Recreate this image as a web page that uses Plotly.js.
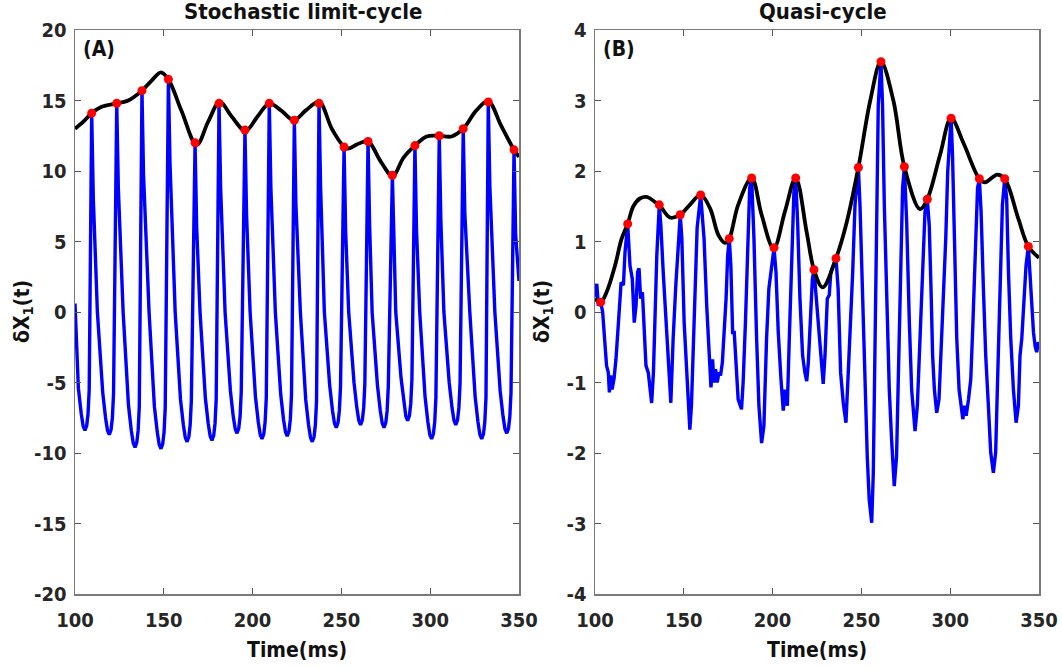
<!DOCTYPE html>
<html>
<head>
<meta charset="utf-8">
<script src="https://cdn.plot.ly/plotly-3.0.1.min.js"></script>
<style>html,body{margin:0;padding:0;background:#fff;}#chart{width:1062px;height:669px;}</style>
</head>
<body>
<div id="chart"></div>
<script>
// ---------- Panel A: stochastic limit-cycle (time ms, value) ----------
const blueA = [
  [100,0.6],[101.9,-5.4],[103.5,-7.2],[104.6,-8.1],[105.6,-8.4],[106.6,-8.05],[107.35,-7.2],[108.0,-5.5],[109.4,14.1],
  [110.3,8.1],[112.6,0],[115.6,-5.7],[117.2,-7.5],[118.3,-8.4],[119.3,-8.7],[120.3,-8.35],[121.05,-7.5],[121.7,-5.8],[123.5,14.8],
  [124.4,8.8],[127.1,0],[130.1,-6.6],[131.7,-8.4],[132.8,-9.3],[133.8,-9.6],[134.8,-9.25],[135.55,-8.4],[136.2,-6.7],[137.7,15.7],
  [138.6,9.7],[141.7,0],[144.7,-6.7],[146.3,-8.5],[147.4,-9.4],[148.4,-9.7],[149.4,-9.35],[150.15,-8.5],[150.8,-6.8],[152.6,16.5],
  [153.5,10.5],[156.4,0],[159.4,-6.2],[161.0,-8.0],[162.1,-8.9],[163.1,-9.2],[164.1,-8.85],[164.85,-8.0],[165.5,-6.3],[167.6,12.0],
  [168.5,6.0],[170.4,0],[173.4,-6.1],[175.0,-7.9],[176.1,-8.8],[177.1,-9.1],[178.1,-8.75],[178.85,-7.9],[179.5,-6.2],[181.1,14.8],
  [182.0,8.8],[184.5,0],[187.5,-5.6],[189.1,-7.4],[190.2,-8.3],[191.2,-8.6],[192.2,-8.25],[192.95,-7.4],[193.6,-5.7],[195.7,12.9],
  [196.6,6.9],[198.6,0],[201.6,-6.0],[203.2,-7.8],[204.3,-8.7],[205.3,-9.0],[206.3,-8.65],[207.05,-7.8],[207.7,-6.1],[209.4,14.8],
  [210.3,8.8],[212.8,0],[215.8,-5.8],[217.4,-7.6],[218.5,-8.5],[219.5,-8.8],[220.5,-8.45],[221.25,-7.6],[221.9,-5.9],[223.5,13.6],
  [224.4,7.6],[226.9,0],[229.9,-6.2],[231.5,-8.0],[232.6,-8.9],[233.6,-9.2],[234.6,-8.85],[235.35,-8.0],[236.0,-6.3],[237.4,14.8],
  [238.3,8.8],[240.4,0],[243.4,-5.2],[245.0,-7.0],[246.1,-7.9],[247.1,-8.2],[248.1,-7.85],[248.85,-7.0],[249.5,-5.3],[251.5,11.7],
  [252.4,5.7],[254.1,0],[257.1,-5.0],[258.7,-6.8],[259.8,-7.7],[260.8,-8.0],[261.8,-7.65],[262.55,-6.8],[263.2,-5.1],[265.0,12.1],
  [265.9,6.1],[267.3,0],[270.3,-5.2],[271.9,-7.0],[273.0,-7.9],[274.0,-8.2],[275.0,-7.85],[275.75,-7.0],[276.4,-5.3],[278.7,9.7],
  [279.6,3.7],[280.6,0],[283.6,-4.7],[285.2,-6.5],[286.3,-7.4],[287.3,-7.7],[288.3,-7.35],[289.05,-6.5],[289.7,-4.8],[291.4,11.8],
  [292.3,5.8],[294.1,0],[297.1,-6.0],[298.7,-7.8],[299.8,-8.7],[300.8,-9.0],[301.8,-8.65],[302.55,-7.8],[303.2,-6.1],[305.1,12.5],
  [306.0,6.5],[307.7,0],[310.7,-5.0],[312.3,-6.8],[313.4,-7.7],[314.4,-8.0],[315.4,-7.65],[316.15,-6.8],[316.8,-5.1],[318.6,13.0],
  [319.5,7.0],[322.3,0],[325.3,-6.0],[326.9,-7.8],[328.0,-8.7],[329.0,-9.0],[330.0,-8.65],[330.75,-7.8],[331.4,-6.1],[332.7,14.9],
  [333.6,8.9],[336.4,0],[339.4,-5.6],[341.0,-7.4],[342.1,-8.3],[343.1,-8.6],[344.1,-8.25],[344.85,-7.4],[345.5,-5.7],[347.2,11.5],
  [348.1,5.5],[350,2.2]
];
const envA = [
  [100,13.0],[104.7,13.5],[109.4,14.1],[115,14.55],[123.5,14.8],[130,15.0],[137.7,15.7],
  [143,16.4],[148.4,17.0],[152.6,16.5],[160,14.25],[168.5,11.85],[175,13.5],[181.5,14.9],
  [188,13.9],[196,12.85],[203,13.9],[209.4,14.8],[216,14.3],[223.2,13.6],[230,14.3],
  [237.4,14.9],[245,12.9],[253,11.6],[259,11.9],[265,12.1],[272,10.7],[278.8,9.65],
  [285,10.95],[291.4,11.8],[298,12.45],[305.1,12.5],[312,12.45],[318.6,13.0],[326,14.3],
  [332.6,14.95],[340,13.2],[347.2,11.5],[350,11.0]
];
const peakA_t = [109.4,123.5,137.7,152.6,167.6,181.1,195.7,209.4,223.5,237.4,251.5,265.0,278.7,291.4,305.1,318.6,332.7,347.2];
const peakA_v = [14.1,14.8,15.7,16.5,12.0,14.8,12.9,14.8,13.6,14.8,11.7,12.1,9.7,11.8,12.5,13.0,14.9,11.5];

// ---------- Panel B: quasi-cycle (time ms, value) ----------
const blueB = [
  [100,0.21],[101,0.40],[101.9,0.09],[103.2,0.14],[104.3,0.0],[105.6,-0.38],[106.5,-0.76],[107.5,-0.86],
  [108.1,-1.14],[108.8,-0.9],[109.6,-1.1],[110.7,-0.95],[111.8,-0.67],[113.2,-0.15],[114.1,0.28],[114.7,0.42],
  [116,0.38],[116.9,0.85],[118.4,1.25],[119.7,0.66],[121,0.47],[122.1,-0.15],[123.1,0.09],[124,0.57],
  [124.8,0.62],[125.7,0.19],[126.7,0.28],[127.6,-0.15],[128.7,-0.76],[130,-0.86],[131,-1.05],[131.9,-1.29],
  [132.9,-0.86],[133.8,-0.15],[134.8,0.80],[136.2,1.52],[137.1,1.22],[138.4,0.57],[139.9,-0.15],[141.2,-0.72],
  [142.7,-1.29],[144,-0.38],[145.5,0.38],[148,1.38],[148.9,1.04],[150.2,-0.15],[151.5,-0.86],[153.4,-1.67],
  [154.3,-1.33],[155.6,-0.38],[156.8,0.38],[157.5,1.19],[159.5,1.66],
  [161.4,1.04],[162.9,0.09],[164.6,-0.62],[165.3,-1.07],[166.2,-0.67],[167,-1.0],[167.9,-0.81],[168.8,-1.0],
  [169.8,-0.86],[170.7,-0.9],[171.7,-0.72],[172.6,-0.38],[173.8,0.19],[174.7,0.80],[175.6,1.04],[176.5,0.66],
  [177.5,-0.29],[178.4,-0.29],[179.3,-0.76],[180.6,-1.24],[182.5,-1.38],[183.4,-1.0],[184.7,-0.15],[185.8,0.80],
  [187.1,1.76],[188.2,1.90],[189.5,1.04],[191,-0.38],[192.3,-1.33],[193.8,-1.86],[195.1,-1.62],[196.6,-0.38],
  [197.9,0.33],[199.1,0.57],[200.8,0.91],[201.9,0.57],[203.2,-0.29],[204.7,-0.95],[206,-1.40],[207.1,-1.10],
  [208.3,-1.33],[209.4,-0.38],[210.7,0.80],[212,1.70],[213,1.90],[214.1,1.27],[215.4,0.19],[216.9,-0.62],
  [218.2,-0.86],[219.2,-0.98],[220.1,-0.72],[221.4,0.09],[222.4,0.47],[223.3,0.60],[224.8,0.09],[226.3,-0.29],
  [227.2,-0.72],[228.5,-1.02],[229.5,-0.62],[230.8,0.19],[231.9,0.24],[232.8,0.57],[234.2,0.66],[235.7,0.76],
  [236.9,0.33],[238.3,-0.86],[239.8,-1.29],[241.3,-1.57],[242.6,-0.86],[243.9,-0.15],[245.1,0.57],[246.4,1.52],
  [248.3,2.05],[249.2,1.52],[250.7,0.09],[252,-1.10],[253.3,-2.05],[254.4,-2.66],[255.8,-2.99],[256.7,-2.28],
  [257.6,-0.38],[258.6,1.52],[259.5,2.94],[261,3.55],[261.9,2.94],[262.9,1.52],[264.2,0.09],[265.7,-1.10],
  [267,-1.81],[268.5,-2.47],[269.8,-2.05],[270.8,-0.86],[272.1,0.57],[273.2,1.76],[274.2,2.06],[275.5,1.27],
  [277,-0.15],[278.3,-1.10],[280.2,-1.69],[281.5,-1.33],[283,-0.38],[284.5,0.57],[285.8,1.42],[287.1,1.60],
  [288.2,1.23],[289.2,0.33],[290.1,-0.62],[291.1,-1.10],[292.4,-1.43],[293.7,-1.24],[294.8,-0.62],[296.2,0.09],
  [297.5,1.04],[298.6,1.99],[299.6,2.47],[300.5,2.75],[301.3,2.23],[302.4,0.80],[303.7,-0.38],[305,-1.10],
  [306,-1.33],[307.1,-1.52],[308.1,-1.33],[309,-1.47],[310.3,-1.24],[311.6,-0.95],[312.8,-0.15],[314.1,0.80],
  [315.4,1.76],[316.4,1.89],[317.4,1.42],[318.7,0.33],[320,-0.62],[321.5,-1.33],[322.8,-1.99],[324.3,-2.28],
  [325.6,-1.99],[326.8,-0.86],[328.1,0.57],[329.4,1.52],[330.7,1.89],[331.8,1.61],[332.8,0.57],[334.1,-0.38],
  [335.6,-1.10],[337.1,-1.57],[338.4,-1.33],[339.3,-0.62],[340.3,-0.38],[341.2,0.09],[342.7,0.66],[344,0.93],
  [345,0.47],[345.9,0.0],[346.9,-0.29],[347.8,-0.48],[348.7,-0.57],[349.6,-0.43],[350,-0.45]
];
const envB = [
  [100,0.19],[103.2,0.14],[106.5,0.28],[111.3,0.66],[115,1.04],[118.4,1.25],[121.6,1.5],[125.3,1.61],
  [129.5,1.63],[133.8,1.56],[136.2,1.52],[142.2,1.34],[148,1.38],[153.4,1.52],[159.5,1.66],[164.8,1.47],
  [169.5,1.09],[173.2,0.98],[175.6,1.04],[180.6,1.52],[188.2,1.9],[193.8,1.38],[200.6,0.9],[206.9,1.42],
  [213,1.9],[219.2,1.13],[223.3,0.6],[228.2,0.35],[235.7,0.76],[241.7,1.27],[248.3,2.05],[255,3.0],
  [261,3.55],[268,3.0],[274.2,2.06],[283,1.46],[287.1,1.6],[294.3,2.23],[300.5,2.75],[307.4,2.4],
  [316.4,1.89],[319.6,1.84],[326.5,1.95],[330.7,1.89],[338.4,1.32],[344,0.93],[350,0.77]
];
const peakB_t = [103.2,118.4,136.2,148.0,159.5,175.6,188.2,200.8,213.0,223.3,235.7,248.3,261.0,274.2,287.1,300.5,316.4,330.7,344.0];
const peakB_v = [0.14,1.25,1.52,1.38,1.66,1.04,1.90,0.91,1.90,0.60,0.76,2.05,3.55,2.06,1.60,2.75,1.89,1.89,0.93];

// ---------- axes / text ----------
const xTicks = [100,150,200,250,300,350];
const yTicksA = [-20,-15,-10,-5,0,5,10,15,20];
const yTicksB = [-4,-3,-2,-1,0,1,2,3,4];
const titles = ["Stochastic limit-cycle","Quasi-cycle"];
const panelTags = ["(A)","(B)"];
const xLabel = "Time(ms)";
const yLabel = "δX<sub>1</sub>(t)";

const FONT = "'Liberation Sans Narrow','DejaVu Sans Condensed','Arial Narrow','Liberation Sans',Arial,sans-serif";
const col = a => i => a.map(p => p[i]);

function traces(blue, env, pt, pv, xa, ya) {
  return [
    {x: col(blue)(0), y: col(blue)(1), xaxis: xa, yaxis: ya, type: 'scatter', mode: 'lines',
     line: {color: '#0000ff', width: 3.4}, hoverinfo: 'skip'},
    {x: col(env)(0), y: col(env)(1), xaxis: xa, yaxis: ya, type: 'scatter', mode: 'lines',
     line: {color: '#000000', width: 3.8, shape: 'spline', smoothing: 1}, hoverinfo: 'skip'},
    {x: pt, y: pv, xaxis: xa, yaxis: ya, type: 'scatter', mode: 'markers',
     marker: {color: '#ff0000', size: 9}, hoverinfo: 'skip'}
  ];
}

const data = [
  ...traces(blueA, envA, peakA_t, peakA_v, 'x', 'y'),
  ...traces(blueB, envB, peakB_t, peakB_v, 'x2', 'y2')
];

const tickFont = {family: FONT, size: 20, color: '#262626', weight: 'bold'};
function xax(domain, anchor) {
  return {domain, anchor, range: [100, 350], tickvals: xTicks, ticktext: xTicks.map(String), ticks: 'inside', ticklen: 6, tickcolor: '#555',
    showline: true, linecolor: '#7a7a7a', linewidth: 1.5, mirror: 'ticks', showgrid: false, zeroline: false,
    tickfont: tickFont, ticklabelstandoff: 7, fixedrange: true};
}
function yax(domain, anchor, range, vals) {
  return {domain, anchor, range, tickvals: vals, ticktext: vals.map(v => (v < 0 ? '-' : '') + Math.abs(v)), ticks: 'inside', ticklen: 6, tickcolor: '#555',
    showline: true, linecolor: '#7a7a7a', linewidth: 1.5, mirror: 'ticks', showgrid: false, zeroline: false,
    tickfont: tickFont, ticklabelstandoff: 3, fixedrange: true};
}
const dA = [75/1062, 519/1062], dB = [595/1062, 1039/1062];
const txt = sz => ({family: FONT, size: sz, color: '#111', weight: 'bold'});
const ann = [];
[dA, dB].forEach((d, i) => {
  const cx = (d[0] + d[1]) / 2;
  ann.push({text: titles[i], x: cx + 6/1062, y: 1.033, xref: 'paper', yref: 'paper', showarrow: false, xanchor: 'center', yanchor: 'middle', font: txt(22)});
  ann.push({text: panelTags[i], x: d[0] + 6/1062, y: 0.966, xref: 'paper', yref: 'paper', showarrow: false, xanchor: 'left', yanchor: 'middle', font: txt(21)});
  ann.push({text: xLabel, x: cx, y: -0.099, xref: 'paper', yref: 'paper', showarrow: false, xanchor: 'center', yanchor: 'middle', font: txt(21)});
  ann.push({text: yLabel, x: d[0] - 52/1062, y: 0.5, xref: 'paper', yref: 'paper', showarrow: false, xanchor: 'center', yanchor: 'middle', textangle: -90, font: txt(21)});
});

const layout = {
  width: 1062, height: 669, margin: {l: 0, r: 0, t: 30, b: 75},
  paper_bgcolor: '#fff', plot_bgcolor: '#fff', showlegend: false,
  xaxis: xax(dA, 'y'), yaxis: yax([0, 1], 'x', [-20, 20], yTicksA),
  xaxis2: xax(dB, 'y2'), yaxis2: yax([0, 1], 'x2', [-4, 4], yTicksB),
  annotations: ann
};
Plotly.newPlot('chart', data, layout, {displayModeBar: false, staticPlot: true});
</script>
</body>
</html>
